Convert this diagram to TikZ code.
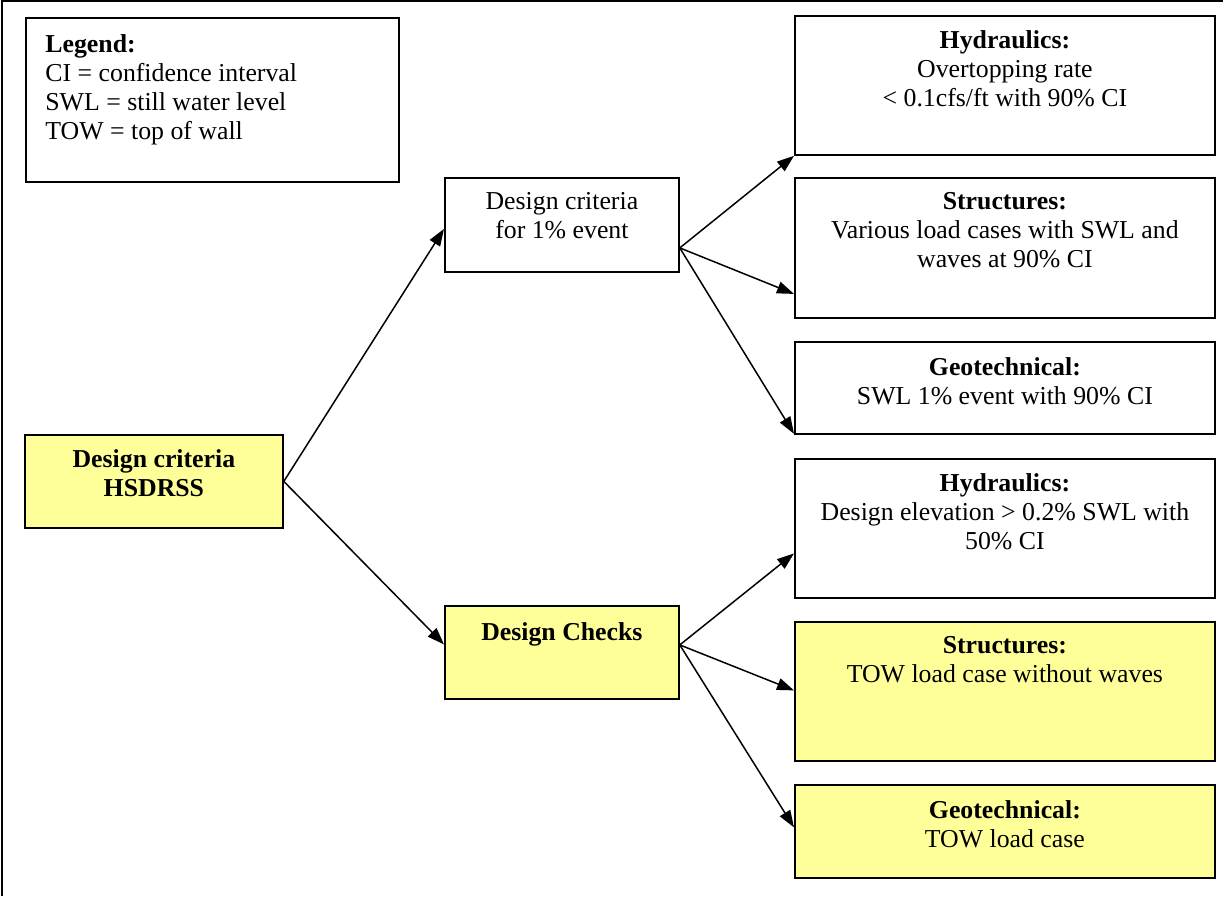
\documentclass[tikz,border=0pt]{standalone}
\usepackage{fontspec}
\setmainfont{Liberation Serif}
\usetikzlibrary{arrows.meta,calc}
\definecolor{pale}{HTML}{FFFF99}
\begin{document}
\begin{tikzpicture}[x=0.5pt,y=-0.5pt,
  every node/.style={font=\fontsize{12.9}{14.5}\selectfont},
  box/.style={draw=black,line width=0.9pt,inner sep=0pt,anchor=north west,fill=white},
  ybox/.style={box,fill=pale},
  txt/.style={inner sep=0pt,align=center,anchor=north},
  conn/.style={line width=0.75pt,-{Triangle[length=8.5pt,width=6pt]}}]
\useasboundingbox (0,0) rectangle (1223,896);
% outer frame (top and left edges)
\draw[line width=1pt] (2,896) -- (2,1) -- (1223,1);
% boxes
\node[box,minimum width=186.5pt,minimum height=82pt] (leg) at (25,17) {};
\node[ybox,minimum width=129pt,minimum height=46.5pt] (hs) at (24,434) {};
\node[box,minimum width=117pt,minimum height=47pt] (dc1) at (444,177) {};
\node[ybox,minimum width=117pt,minimum height=46.5pt] (dch) at (444,605) {};
\node[box,minimum width=210pt,minimum height=69.5pt] (h1) at (794,15) {};
\node[box,minimum width=210pt,minimum height=70pt] (s1) at (794,177) {};
\node[box,minimum width=210pt,minimum height=46pt] (g1) at (794,341) {};
\node[box,minimum width=210pt,minimum height=69.5pt] (h2) at (794,458) {};
\node[ybox,minimum width=210pt,minimum height=69.5pt] (s2) at (794,621) {};
\node[ybox,minimum width=210pt,minimum height=46.5pt] (g2) at (794,784) {};
% texts
\node[inner sep=0pt,align=left,anchor=north west] (legt) at ([xshift=10pt,yshift=-8.5pt]leg.north west)
  {\textbf{Legend:}\\CI = confidence interval\\SWL = still water level\\TOW = top of wall};
\node[txt] (hst) at ([yshift=-7.5pt]hs.north) {\textbf{Design criteria}\\\textbf{HSDRSS}};
\node[txt] (dc1t) at ([yshift=-7.5pt]dc1.north) {Design criteria\\for 1\% event};
\node[txt] (dcht) at ([yshift=-8.5pt]dch.north) {\textbf{Design Checks}};
\node[txt] (h1t) at ([yshift=-7.5pt]h1.north) {\textbf{Hydraulics:}\\Overtopping rate\\< 0.1cfs/ft with 90\% CI};
\node[txt] (s1t) at ([yshift=-7.5pt]s1.north) {\textbf{Structures:}\\Various load cases with SWL and\\waves at 90\% CI};
\node[txt] (g1t) at ([yshift=-8pt]g1.north) {\textbf{Geotechnical:}\\SWL 1\% event with 90\% CI};
\node[txt] (h2t) at ([yshift=-7.5pt]h2.north) {\textbf{Hydraulics:}\\Design elevation > 0.2\% SWL with\\50\% CI};
\node[txt] (s2t) at ([yshift=-7.5pt]s2.north) {\textbf{Structures:}\\TOW load case without waves};
\node[txt] (g2t) at ([yshift=-8pt]g2.north) {\textbf{Geotechnical:}\\TOW load case};
% connectors
\draw[conn] (hs.east) -- ([yshift=-2pt]dc1.west);
\draw[conn] (hs.east) -- ([yshift=4pt]dch.west);
\draw[conn] ([yshift=-11.5pt]dc1.east) -- (h1.south west);
\draw[conn] ([yshift=-11.5pt]dc1.east) -- ([yshift=-23pt]s1.west);
\draw[conn] ([yshift=-11.5pt]dc1.east) -- ([yshift=0.5pt]g1.south west);
\draw[conn] ([yshift=3.75pt]dch.east) -- ([yshift=-12.5pt]h2.west);
\draw[conn] ([yshift=3.75pt]dch.east) -- ([yshift=0.5pt]s2.west);
\draw[conn] ([yshift=3.75pt]dch.east) -- ([yshift=2pt]g2.west);
\end{tikzpicture}
\end{document}
